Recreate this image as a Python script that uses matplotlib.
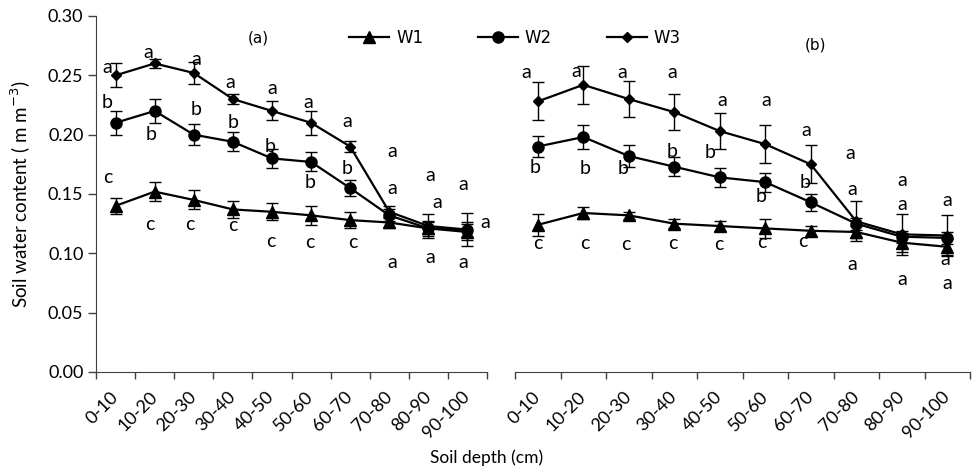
import matplotlib
matplotlib.use("Agg")
import matplotlib.pyplot as plt

# soil depth classes
depths = ["0-10", "10-20", "20-30", "30-40", "40-50",
          "50-60", "60-70", "70-80", "80-90", "90-100"]

# panel (a)
a_w1 = [0.140, 0.152, 0.145, 0.137, 0.135, 0.132, 0.128, 0.126, 0.121, 0.118]
a_w2 = [0.210, 0.220, 0.200, 0.194, 0.180, 0.177, 0.155, 0.132, 0.121, 0.120]
a_w3 = [0.250, 0.260, 0.252, 0.230, 0.220, 0.210, 0.190, 0.135, 0.123, 0.120]
a_w1_err = [0.007, 0.008, 0.008, 0.007, 0.007, 0.008, 0.007, 0.005, 0.005, 0.007]
a_w2_err = [0.010, 0.010, 0.009, 0.008, 0.008, 0.008, 0.007, 0.005, 0.006, 0.006]
a_w3_err = [0.010, 0.004, 0.009, 0.004, 0.008, 0.010, 0.005, 0.005, 0.010, 0.014]
a_w1_sig = ["c", "c", "c", "c", "c", "c", "c", "a", "a", "a"]
a_w2_sig = ["b", "b", "b", "b", "b", "b", "b", "a", "a", "a"]
a_w3_sig = ["a", "a", "a", "a", "a", "a", "a", "a", "a", "a"]

# panel (b)
b_w1 = [0.124, 0.134, 0.132, 0.125, 0.123, 0.121, 0.119, 0.118, 0.109, 0.1055]
b_w2 = [0.190, 0.198, 0.182, 0.173, 0.164, 0.160, 0.143, 0.125, 0.114, 0.113]
b_w3 = [0.228, 0.242, 0.230, 0.219, 0.203, 0.192, 0.175, 0.127, 0.116, 0.115]
b_w1_err = [0.009, 0.005, 0.003, 0.004, 0.004, 0.008, 0.004, 0.005, 0.008, 0.007]
b_w2_err = [0.009, 0.010, 0.009, 0.008, 0.008, 0.008, 0.007, 0.005, 0.005, 0.005]
b_w3_err = [0.016, 0.016, 0.015, 0.015, 0.015, 0.016, 0.016, 0.017, 0.017, 0.017]
b_w1_sig = ["c", "c", "c", "c", "c", "c", "c", "a", "a", "a"]
b_w2_sig = ["b", "b", "b", "b", "b", "b", "b", "a", "a", "a"]
b_w3_sig = ["a", "a", "a", "a", "a", "a", "a", "a", "a", "a"]

# letter offsets from each point, in pixels (dx right, dy down)
a_w1_off = [(-8, -28), (-5, 33), (-4, 25), (0, 16), (-1, 30), (-1, 27), (3, 22), (3, 40), (2, 29), (-4, 31)]
a_w2_off = [(-8, -20), (-4, 24), (2, -25), (0, -19), (-2, -12), (-1, 21), (-3, -20), (3, -27), (9, -26), (18, -7)]
a_w3_off = [(-8, -8), (-6, -11), (3, -13), (-3, -17), (0, -22), (-3, -20), (-3, -25), (3, -60), (2, -51), (-4, -45)]
b_w1_off = [(0, 19), (2, 31), (-3, 29), (-1, 20), (-1, 18), (-3, 14), (-8, 11), (-4, 33), (0, 37), (0, 37)]
b_w2_off = [(-3, 21), (2, 31), (-6, 12), (-2, -15), (-10, -25), (-4, 14), (-6, -20), (-4, -34), (0, -32), (-2, 22)]
b_w3_off = [(-11, -29), (-7, -13), (-6, -27), (-2, -40), (3, -31), (1, -44), (-5, -34), (-6, -68), (0, -54), (0, -35)]

LETTER_FONT = ["Lato", "DejaVu Sans"]
AXIS_COLOR = "#404040"

fig = plt.figure(figsize=(9.74, 4.71), dpi=100)
ax1 = fig.add_axes([96 / 974, 1 - 372 / 471, 391 / 974, 356 / 471])
ax2 = fig.add_axes([515 / 974, 1 - 372 / 471, 455 / 974, 356 / 471])

styles = {
  "W1": dict(marker="^", markersize=8),
  "W2": dict(marker="o", markersize=8),
  "W3": dict(marker="D", markersize=5.5),
}

def draw_panel(ax, series, errs, sigs, offs):
  x = list(range(len(depths)))
  handles = []
  for name, vals, err in zip(["W1", "W2", "W3"], series, errs):
    h = ax.errorbar(x, vals, yerr=err, color="black", lw=1.6, capsize=4.5,
                    elinewidth=1.0, capthick=1.0, label=name, **styles[name])
    handles.append(h)
  for vals, sig, off in zip(series, sigs, offs):
    for i, (v, s, (dx, dy)) in enumerate(zip(vals, sig, off)):
      ax.annotate(s, xy=(i, v), xytext=(dx, -dy), textcoords="offset pixels",
                  ha="center", va="center", fontsize=14, family=LETTER_FONT,
                  annotation_clip=False)
  ax.set_xlim(-0.5, len(depths) - 0.5)
  ax.set_ylim(0, 0.30)
  ax.set_xticks([i - 0.5 for i in range(len(depths) + 1)])
  ax.set_xticklabels([])
  ax.set_xticks(x, minor=True)
  ax.set_xticklabels(depths, minor=True, rotation=45, ha="right",
                     va="center", rotation_mode="anchor", family=LETTER_FONT,
                     fontsize=13)
  ax.tick_params(axis="x", which="major", direction="out", length=5,
                 color=AXIS_COLOR, width=1)
  ax.tick_params(axis="x", which="minor", length=0, pad=16)
  for side in ["top", "right"]:
    ax.spines[side].set_visible(False)
  ax.spines["bottom"].set_color(AXIS_COLOR)
  ax.spines["left"].set_color(AXIS_COLOR)
  ax.patch.set_alpha(0)
  return handles

handles = draw_panel(ax1, [a_w1, a_w2, a_w3], [a_w1_err, a_w2_err, a_w3_err],
                     [a_w1_sig, a_w2_sig, a_w3_sig], [a_w1_off, a_w2_off, a_w3_off])
draw_panel(ax2, [b_w1, b_w2, b_w3], [b_w1_err, b_w2_err, b_w3_err],
           [b_w1_sig, b_w2_sig, b_w3_sig], [b_w1_off, b_w2_off, b_w3_off])

ax1.set_yticks([0, 0.05, 0.10, 0.15, 0.20, 0.25, 0.30])
ax1.set_yticklabels([f"{t:.2f}" for t in ax1.get_yticks()], family=LETTER_FONT, fontsize=13)
ax1.tick_params(axis="y", direction="out", length=6, color=AXIS_COLOR, width=1, pad=3)
ax1.set_ylabel("Soil water content ( m m$^{-3}$)", family=LETTER_FONT, fontsize=13.5)
ax1.yaxis.set_label_coords(-0.16, 0.5)

ax2.spines["left"].set_visible(False)
ax2.set_yticks([])

fig.text(258 / 974, 1 - 38 / 471, "(a)", ha="center", va="center", fontsize=11)
fig.text(815 / 974, 1 - 45 / 471, "(b)", ha="center", va="center", fontsize=11)
fig.text(487 / 974, 1 - 458 / 471, "Soil depth (cm)", ha="center", va="center",
         family=LETTER_FONT, fontsize=12.5)

leg_handles = [h[0] for h in handles]
fig.legend(leg_handles, ["W1", "W2", "W3"], loc="center", ncol=3, frameon=False,
           bbox_to_anchor=(515 / 974, 1 - 38 / 471), fontsize=12,
           handlelength=2.4, handletextpad=0.4, columnspacing=3.3)

fig.savefig("out.png", dpi=100, facecolor="white")
